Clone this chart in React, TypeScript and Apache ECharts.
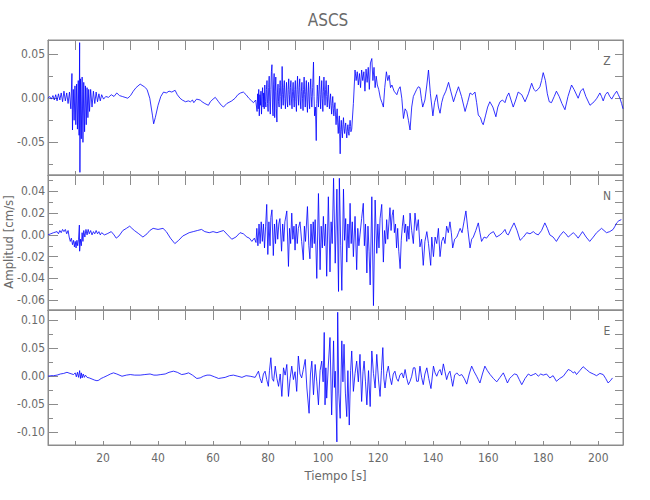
import React, { useEffect, useRef } from "react";
import * as echarts from "echarts";

// ---- data (time [s], velocity [cm/s]) ----
const X_MIN = 0;
const X_MAX = 209;

const Z_TRACE: number[][] = [
  [0,0],[0.6,0.002],[1.2,-0.001],[1.8,0.003],[2.3,-0.002],[2.8,0.004],[3.3,-0.003],[3.8,0.005],[4.3,-0.002],[4.8,0.006],
  [5.3,-0.004],[5.8,0.008],[6.3,-0.003],[6.8,0.006],[7.3,-0.006],[7.8,0.007],[8.3,-0.012],[8.7,0.028],[8.9,-0.036],[9.2,0.010],
  [9.5,-0.025],[9.8,0.014],[10.1,-0.030],[10.4,0.016],[10.7,-0.035],[11.0,0.020],[11.3,-0.042],[11.5,0.063],[11.6,-0.084],[11.8,0.022],
  [12.1,-0.046],[12.4,0.024],[12.7,-0.050],[13.0,0.018],[13.3,-0.038],[13.6,0.014],[13.9,-0.030],[14.2,0.012],[14.5,-0.022],[14.8,0.010],
  [15.1,-0.015],[15.5,0.010],[16.0,-0.010],[16.5,0.008],[17.0,-0.006],[17.5,0.007],[18.0,-0.004],[18.5,0.005],[19.0,-0.003],[19.5,0.004],
  [20.2,-0.001],[21,0.002],[22,0.001],[23,0.004],[24,0.002],[25,0.006],[26,0.003],[27,0.002],[28,0.001],[29,0],
  [30,0.003],[31,0.008],[32,0.012],[33.5,0.016],[35,0.013],[36,0.010],[37,0],[38,-0.020],[38.4,-0.029],[39,-0.022],
  [40,-0.008],[41,0.002],[42,0.007],[43,0.006],[44,0.008],[45,0.007],[46.2,0.009],[47,0.004],[48,0],[48.8,-0.002],
  [50,-0.004],[51,-0.003],[51.8,-0.004],[52.5,-0.002],[53,-0.005],[54,-0.001],[55.3,-0.002],[56,-0.004],[57,-0.006],[58.3,-0.008],
  [59,-0.004],[60,-0.001],[60.8,0.001],[62,-0.004],[63,-0.008],[63.8,-0.010],[65,-0.006],[66.8,-0.003],[68,0],[69,0.004],
  [70,0.006],[71,0.007],[72,0.004],[73,0],[74,-0.003],[74.7,-0.005],[75.5,-0.002],
  [76.0,-0.015],[76.2,0.005],[76.4,-0.012],[76.6,0.010],[76.8,-0.020],[77.0,0.004],[77.2,-0.008],[77.4,0.008],[77.6,-0.018],[77.8,0.002],
  [78.0,0.012],[78.2,-0.010],[78.4,0.006],[78.6,-0.012],[78.8,0.015],[79.0,-0.004],[79.2,-0.010],[79.4,0.010],[79.6,0.020],[79.8,-0.006],
  [80.0,-0.015],[80.2,0.012],[80.4,0.025],[80.6,-0.004],[80.8,-0.018],[81.0,0.010],[81.2,0.030],[81.4,0.038],[81.6,-0.010],[81.8,-0.020],
  [82.0,0.016],[82.2,0.028],[82.4,-0.022],[82.6,0.008],[82.8,0.024],[83.0,-0.012],[83.2,-0.027],[83.4,0.006],[83.6,0.016],[83.8,-0.004],
  [84.0,-0.010],[84.2,0.012],[84.4,0.020],[84.6,0.002],[84.8,-0.012],[85.0,0.014],[85.1,0.036],[85.3,0.004],[85.5,-0.008],[85.7,0.012],
  [85.9,0.020],[86.1,0],[86.3,-0.012],[86.5,0.006],[86.7,0.018],[86.9,-0.002],[87.1,-0.010],[87.3,0.010],[87.5,0.022],[87.7,0.004],
  [87.9,-0.008],[88.1,0.012],[88.3,0.020],[88.5,-0.002],[88.7,-0.012],[88.9,0.008],[89.1,0.018],[89.3,0],[89.5,-0.010],[89.7,0.010],
  [89.9,0.020],[90.1,-0.004],[90.3,-0.015],[90.5,0.010],[90.7,0.025],[90.9,0.004],[91.1,-0.008],[91.3,0.012],[91.5,0.022],[91.7,-0.002],
  [91.9,-0.012],[92.1,0.008],[92.3,0.018],[92.5,0],[92.7,-0.014],[92.9,0.010],[93.1,0.024],[93.3,0.004],[93.5,-0.010],[93.7,0.008],
  [93.9,0.020],[94.1,-0.002],[94.3,-0.016],[94.5,0.006],[94.7,0.018],[94.9,-0.002],[95.1,-0.012],[95.3,0.010],[95.5,0.022],[95.7,0.002],
  [95.9,-0.010],[96.2,0.012],[96.5,0.041],[96.7,0.002],[96.9,-0.020],[97.2,-0.010],[97.5,-0.048],[97.7,-0.006],[97.9,0.015],[98.1,0.002],
  [98.3,-0.010],[98.5,0.010],[98.7,0.025],[98.9,0.004],[99.1,-0.012],[99.3,0.006],[99.5,0.020],[99.7,0],[99.9,-0.015],[100.1,0.008],
  [100.3,0.024],[100.5,0.006],[100.7,-0.008],[100.9,0.010],[101.1,0.020],[101.3,0.002],[101.5,-0.010],[101.7,0.004],[101.9,0.015],[102.1,-0.002],
  [102.3,-0.012],[102.5,-0.002],[102.7,0.005],[102.9,-0.008],[103.1,-0.018],[103.3,-0.006],[103.5,0.002],[103.7,-0.012],[103.9,-0.020],[104.1,-0.010],
  [104.3,-0.005],[104.5,-0.018],[104.7,-0.030],[104.9,-0.020],[105.1,-0.012],[105.3,-0.028],[105.5,-0.040],[105.7,-0.028],[105.9,-0.020],[106.0,-0.040],
  [106.2,-0.063],[106.4,-0.035],[106.6,-0.025],[106.8,-0.038],[107,-0.045],[107.2,-0.030],[107.4,-0.022],[107.6,-0.034],[107.8,-0.040],[108.0,-0.032],
  [108.2,-0.028],[108.4,-0.038],[108.6,-0.045],[108.8,-0.036],[109,-0.030],[109.2,-0.038],[109.4,-0.042],[109.6,-0.032],[109.8,-0.025],[110.0,-0.032],
  [110.1,-0.038],[110.4,-0.035],[111,-0.006],[111.6,0.032],
  [112,0.020],[112.4,0.030],[112.8,0.015],[113.2,0.028],[113.6,0.012],[114,0.032],[114.4,0.020],[114.8,0.030],[115.2,0.008],[115.6,0.033],
  [116,0.018],[116.4,0.035],[116.8,0.010],[117.2,0.040],[117.7,0.045],[118.1,0.020],[118.5,0.035],[118.9,0.012],[119.3,0.025],[119.7,0.015],
  [120.2,0.010],[120.8,0],[121.4,-0.005],[121.9,-0.010],[122.4,0.012],[123,0.030],[123.5,0.020],[124,0.026],[124.5,0.012],[125,0.015],
  [125.8,0.008],[126.8,0.004],[127.4,0.010],[128,0.013],[128.6,0],[129.2,-0.023],[129.8,-0.012],[130.4,-0.015],[131,-0.025],[131.6,-0.036],
  [132.2,-0.010],[132.8,0.002],[133.4,0.006],[134,0.010],[134.6,0.013],[135.2,0.012],[135.7,0],[136.2,-0.010],[137,-0.002],[137.7,0.015],
  [138.3,0.032],[139,0.005],[139.9,-0.020],[140.5,-0.005],[141.3,0.004],[141.9,-0.010],[142.5,-0.017],[143.1,-0.005],[143.7,0.002],[144.6,0.008],
  [145.6,0.018],[146.4,0.008],[147.4,-0.004],[148.3,0.005],[149.2,0.013],[150.3,0.002],[151.6,-0.015],[152.5,-0.005],[153.4,0.006],[154.3,0.004],
  [155.2,0.007],[155.8,-0.005],[156.4,-0.019],[157.2,-0.022],[157.8,-0.028],[158.2,-0.030],[159,-0.020],[159.8,-0.010],[160.6,-0.004],[161.7,-0.010],
  [162.8,-0.021],[163.5,-0.010],[164.3,-0.004],[165.2,-0.002],[166.1,-0.005],[166.8,0.002],[167.5,0.006],[168.3,-0.002],[169.1,-0.010],[170,-0.002],
  [170.9,0.007],[172.2,0.004],[173.4,-0.004],[174.6,0.005],[175.8,0.017],[176.6,0.010],[177.3,0.008],[178.1,0.010],[178.8,0.013],[179.4,0.020],
  [180,0.029],[180.8,0.020],[181.5,0.005],[182.2,-0.004],[183,-0.005],[184,0.002],[184.8,0.008],[185.8,0.002],[186.8,-0.006],[187.9,-0.013],
  [189,0.002],[190.3,0.015],[191.2,0.010],[192.7,0],[193.6,0.008],[194.5,0.011],[195.5,0.002],[197,-0.008],[198.5,-0.004],[199.5,0],
  [200.6,0.006],[201.2,0.002],[201.8,-0.003],[202.6,0.004],[203.4,0.007],[204.2,0.002],[204.9,-0.001],[205.8,0.004],[206.7,0.008],[207.3,0.004],
  [207.9,0],[208.5,-0.006],[209,-0.012],
];

const N_TRACE: number[][] = [
  [0,0],[1,0.001],[2,0.002],[3.3,0.003],[3.8,0.001],[4.3,0.004],[4.8,0.002],[5.3,0.005],[5.8,0.003],[6.3,0.005],
  [6.8,0.001],[7.3,0.004],[7.7,-0.002],[8.1,-0.006],[8.5,-0.003],[8.9,-0.009],[9.3,-0.005],[9.6,-0.011],[9.9,-0.006],[10.2,-0.012],
  [10.5,-0.005],[10.8,-0.010],[11.1,-0.004],[11.4,0.009],[11.5,-0.015],[11.8,-0.004],[12.1,-0.010],[12.4,0.002],[12.7,-0.006],[13,0.004],
  [13.4,-0.002],[13.8,0.005],[14.2,0],[14.6,0.005],[15,0.001],[15.5,0.004],[16,0],[16.5,0.003],[17,0.001],[17.5,0.004],
  [18,0.001],[18.5,0.003],[19,0],[19.5,0.002],[20.5,0],[21.5,0.001],[23,0.003],[24,0],[24.8,-0.003],[25.8,-0.001],
  [27.2,0.004],[28.5,0.006],[29.7,0.008],[30.5,0.006],[31.4,0.004],[33,0.001],[34.5,-0.002],[36,0.001],[37,0.004],[38.2,0.006],
  [40,0.005],[41.8,0.006],[43,0.003],[44.5,-0.003],[46.1,-0.008],[47.5,-0.005],[49,-0.001],[49.8,0],[51.3,0.002],[52.8,0.003],
  [54.3,0.004],[55.8,0.005],[57,0.003],[58.6,0.002],[60,0.003],[61.4,0.002],[62.5,0.003],[63.8,0.004],[65.3,0],[66.8,-0.004],
  [68.3,-0.002],[69.8,0.002],[71,0.001],[72.3,-0.002],[73.2,-0.003],[74.1,-0.006],[75,-0.003],[75.6,-0.007],
  [75.9,0.006],[76.3,-0.010],[76.7,0.010],[77.1,-0.008],[77.5,0.012],[77.9,-0.006],[78.3,0.010],[78.7,-0.012],[79.1,0.008],[79.5,0.028],
  [79.9,-0.018],[80.3,0.012],[80.7,-0.010],[81.0,0.016],[81.4,0.023],[81.9,-0.019],[82.3,0.010],[82.7,-0.008],[83.1,0.014],[83.5,-0.004],
  [83.9,0.010],[84.3,0.015],[84.9,-0.015],[85.3,0.010],[85.7,-0.006],[86.1,0.012],[86.8,0.022],[87.4,-0.029],[87.8,0.006],[88.2,-0.008],
  [88.6,0.020],[89.0,-0.004],[89.4,0.008],[89.8,-0.014],[90.2,0.010],[90.6,-0.008],[91.0,0.006],[91.6,0.012],[92.2,-0.006],[92.8,-0.023],
  [93.2,0.008],[93.6,-0.006],[94.3,0.026],[94.8,-0.010],[95.2,-0.022],[95.6,0.010],[96.0,-0.012],[96.4,0.012],[96.8,-0.008],[97.1,0.014],
  [97.7,-0.040],[98.3,0.038],[98.9,-0.032],[99.3,0.008],[99.7,-0.012],[100.1,0.017],[100.5,-0.010],[100.9,0.010],[101.3,-0.038],[101.9,0.035],
  [102.5,-0.034],[102.9,0.012],[103.3,-0.008],[103.8,0.052],[104.4,-0.026],[105.0,0.042],[105.6,-0.052],[105.9,0.052],[106.4,-0.010],[106.8,-0.051],
  [107.4,0.042],[107.8,-0.005],[108.2,0.015],[108.6,-0.025],[109.0,0.010],[109.4,-0.012],[109.8,0.029],[110.2,-0.008],[110.6,0.012],[111.0,-0.020],
  [111.6,0.017],[112.2,-0.032],[112.6,0.006],[113.0,-0.010],[113.4,0],[114.0,0.015],[114.6,0.029],[115.0,-0.010],[115.4,0.010],[115.9,-0.035],
  [116.3,0.008],[116.7,-0.015],[117.1,-0.046],[117.7,0.035],[118.3,-0.065],[118.9,0.032],[119.5,-0.017],[119.9,0.010],[120.3,-0.012],[120.7,0.015],
  [121.3,0.028],[121.9,-0.025],[122.3,0.004],[122.7,-0.008],[123.1,0.014],[123.5,-0.004],[123.9,0.010],[124.3,0.025],[124.7,0.004],[125.1,0.018],
  [125.5,0.023],[125.9,0.002],[126.3,0.010],[126.7,-0.012],[127.1,0.006],[127.5,-0.015],[128.0,-0.031],[128.4,-0.005],[128.8,0.008],[129.2,0.018],
  [129.6,0.002],[130.0,0.010],[130.4,-0.006],[130.8,0.008],[131.2,-0.004],[131.6,0.020],[132.2,0.004],[132.8,-0.008],[133.4,0.020],[134.0,0.004],
  [134.6,0.014],[135.2,-0.011],[135.8,-0.004],[136.4,-0.028],[137.0,-0.006],[137.7,0.003],[138.3,-0.008],[139.1,-0.028],[139.5,-0.002],[140.1,-0.020],
  [140.7,-0.002],[141.3,-0.008],[141.9,0.006],[142.5,-0.020],[143.1,-0.006],[143.7,-0.002],[144.3,-0.008],[144.9,0.008],[145.5,0.002],[146.1,0.012],
  [146.6,0.002],[147.1,-0.012],[147.8,-0.004],[148.6,-0.002],[149.2,0.002],[149.8,0.006],[150.5,0.002],[151.2,0.012],[151.9,0.022],[152.6,0.005],
  [153.4,-0.012],[154.0,-0.004],[154.6,-0.002],[155.5,0.004],[156.4,0.011],[157.0,0.002],[157.6,-0.006],[158.5,-0.002],[159.4,-0.003],[160.6,0.001],
  [161.9,0.003],[163,-0.002],[164.3,0],[165.2,0.002],[166.1,0.005],[166.7,0.001],[167.3,0],[168.4,0.006],[169.4,0.011],[170.5,0.004],
  [171.6,-0.005],[172.8,-0.002],[174,0.002],[175.2,0.001],[176.4,0.003],[177.3,0.001],[178.2,0],[179.4,0.004],[180.6,0.011],[181.5,0.006],
  [182.4,0],[183.6,-0.002],[184.8,-0.006],[186,-0.001],[187.3,0.003],[188.2,0.001],[189.1,-0.002],[190,0],[190.9,0.002],[191.8,0],
  [192.7,-0.003],[193.5,0],[194.3,0.003],[195.6,-0.002],[196.9,-0.006],[198.2,-0.002],[199.4,0.002],[200.3,0.004],[201.2,0.006],[202.1,0.004],
  [203,0.002],[204.2,0.003],[205.4,0.005],[206.1,0.008],[206.7,0.011],[207.5,0.013],[208.4,0.014],
];

const E_TRACE: number[][] = [
  [0,0],[1,0.001],[2,0.001],[3.3,0.002],[4.5,0.004],[5.7,0.005],[6.9,0.007],[8,0.005],[9.3,0.003],[9.9,0.006],
  [10.3,-0.001],[10.7,0.007],[11.1,-0.002],[11.5,0.010],[11.8,-0.004],[12.1,0.006],[12.4,-0.003],[12.8,0.004],[13.2,-0.002],[13.6,0.002],
  [14.2,-0.002],[15,-0.003],[16,-0.005],[17,-0.007],[17.8,-0.008],[18.5,-0.007],[19.3,-0.004],[20.2,-0.002],[21.5,0.001],[22.7,0.004],
  [23.8,0.006],[25,0.004],[26.9,0],[28.5,0.002],[29.9,0.003],[31.5,0.002],[33.5,0.002],[35.2,0.003],[37.1,0.004],[38.5,0.002],
  [39.6,0.002],[41,0.003],[42.6,0.004],[44,0.007],[45.6,0.009],[47,0.007],[48.6,0.003],[49.8,0.004],[51.1,0.006],[52.5,0.002],
  [54.1,-0.004],[55.3,-0.003],[56.5,0],[57.8,0.002],[58.9,0.002],[60.5,-0.001],[62,-0.004],[63.2,-0.003],[64.4,-0.002],[66,0.001],
  [67.4,0.002],[69,0],[70.5,-0.002],[72,0.001],[73.5,0],[75.3,-0.002],
  [76.5,0.009],[77.1,-0.004],[77.7,-0.012],[78.3,0.004],[78.9,0.009],[79.5,-0.006],[80.1,-0.018],[80.5,0.010],[81.0,0.033],[81.5,-0.004],
  [82.0,-0.009],[82.6,0.018],[83.2,-0.004],[83.8,-0.018],[84.4,0.004],[85.0,-0.036],[85.6,0.015],[86.2,0.002],[86.8,0.021],[87.4,-0.036],
  [88.0,-0.004],[88.6,0.018],[89.2,-0.006],[89.8,0.008],[90.4,-0.027],[91.0,0.036],[91.6,0.004],[92.2,-0.003],[92.8,0.012],[93.5,0.030],
  [94.1,-0.021],[94.9,-0.066],[95.4,0.004],[95.9,0.027],[96.5,-0.033],[97.1,0.021],[97.7,-0.010],[98.3,-0.051],[98.9,0.010],[99.5,0.027],
  [100.0,-0.010],[100.4,0.078],[100.7,-0.051],[101.0,0.015],[101.3,-0.039],[101.9,0.020],[102.5,0.069],[103.1,-0.069],[103.8,0.063],[104.1,-0.020],
  [104.4,0.009],[105.0,-0.117],[105.3,0.114],[105.7,-0.030],[106.2,-0.075],[106.8,0.063],[107.2,-0.010],[107.6,0.057],[108.1,-0.030],[108.6,-0.072],
  [109.0,0.010],[109.5,-0.087],[110.0,0.010],[110.4,0.045],[111.0,-0.027],[111.6,0.005],[112.2,0.027],[112.8,-0.010],[113.4,0.039],[114.0,-0.045],
  [114.5,0.008],[114.9,0.027],[115.4,-0.010],[115.9,-0.051],[116.5,0.010],[117.1,-0.054],[117.7,0.045],[118.3,0.005],[118.9,-0.021],[119.5,0.039],
  [120.1,-0.005],[120.7,-0.036],[121.2,0.010],[121.7,0.051],[122.1,-0.005],[122.5,-0.021],[123.1,0.005],[123.7,0.018],[124.3,-0.002],[124.9,-0.015],
  [125.5,0.004],[126.1,0.009],[126.7,-0.004],[127.3,-0.009],[127.9,0.002],[128.6,0.006],[129.2,-0.003],[129.8,0.012],[130.4,-0.004],[131.0,-0.015],
  [131.6,-0.009],[132.2,0],[132.8,0.015],[133.4,0.015],[134.0,-0.009],[134.6,-0.009],[135.2,0.018],[135.8,-0.002],[136.4,-0.015],[137.0,0.004],
  [137.7,0.015],[138.4,-0.004],[139.2,-0.022],[140.1,0.018],[140.7,0.006],[141.3,0],[141.9,0.008],[142.5,0.012],[143.1,0.002],[143.7,0.022],
  [144.3,0.008],[144.9,-0.006],[145.5,0.004],[146.1,0.009],[146.6,-0.004],[147.1,-0.018],[147.8,0.002],[148.6,0.006],[149.5,0.001],[150.4,0.003],
  [151.3,-0.004],[152.2,-0.014],[153.1,0.004],[154,0.018],[154.9,0.008],[155.8,0],[156.4,-0.006],[157,-0.012],[157.9,0.004],[158.8,0.018],
  [159.7,0.010],[160.7,0.003],[161.9,-0.004],[163.1,-0.010],[164.3,-0.002],[165.5,0.006],[166.2,-0.002],[167,-0.012],[167.8,-0.004],[168.6,0],
  [169.5,0.004],[170.4,0.003],[171.3,-0.006],[172.2,-0.015],[173.4,-0.004],[174.6,0.004],[175.5,0.001],[176.4,0.003],[177.3,0.005],[178.2,0],
  [179.1,0.004],[180,0.002],[181.2,0.004],[182.4,-0.003],[183.6,0.001],[184.8,-0.009],[186,-0.004],[187.3,0],[188.2,0.006],[189.1,0.012],
  [190,0.010],[190.9,0.006],[191.5,0.008],[192.1,0.003],[193.3,0.010],[194.5,0.017],[195.7,0.012],[196.9,0.007],[198.2,0.004],[199.4,0.001],
  [200.6,0.005],[201.8,0.003],[202.7,-0.004],[203.6,-0.012],[204.4,-0.008],[205.2,-0.003],
];

const COMPONENTS = ["Z", "N", "E"];
const Y_RANGES = [[-0.087, 0.066], [-0.069, 0.055], [-0.1225, 0.118]];
const Y_LABEL_TICKS = [
  [-0.05, 0, 0.05],
  [-0.06, -0.04, -0.02, 0, 0.02, 0.04],
  [-0.1, -0.05, 0, 0.05, 0.1],
];
const Y_MINOR_TICKS = [
  [-0.075, -0.05, -0.025, 0, 0.025, 0.05],
  [-0.06, -0.05, -0.04, -0.03, -0.02, -0.01, 0, 0.01, 0.02, 0.03, 0.04, 0.05],
  [-0.1, -0.075, -0.05, -0.025, 0, 0.025, 0.05, 0.075, 0.1],
];
const TRACES = [Z_TRACE, N_TRACE, E_TRACE];
const TITLE = "ASCS";
const X_NAME = "Tiempo [s]";
const Y_NAME = "Amplitud [cm/s]";

const FONT = '"Liberation Sans Narrow", "DejaVu Sans Condensed", "Roboto Condensed", sans-serif';
const TEXT_COLOR = "#6a6a6a";
const FRAME = "#8c8c8c";

export default function App() {
  const ref = useRef<HTMLDivElement>(null);
  useEffect(() => {
    document.body.style.margin = "0";
    const chart = echarts.init(ref.current!, null, { renderer: "svg" });
    const GRID_LEFT = 48;
    const GRID_RIGHT = 27;
    const GRID_TOP = 40;
    const PANEL_H = 135;

    const grid: any[] = [];
    const xAxis: any[] = [];
    const yAxis: any[] = [];
    const series: any[] = [];
    const graphic: any[] = [];

    for (let i = 0; i < 3; i++) {
      grid.push({
        left: GRID_LEFT,
        right: GRID_RIGHT,
        top: GRID_TOP + i * PANEL_H,
        height: PANEL_H,
        show: true,
        borderColor: FRAME,
        borderWidth: 1,
        backgroundColor: "transparent",
      });
      const baseX = {
        type: "value",
        gridIndex: i,
        min: X_MIN,
        max: X_MAX,
        interval: 10,
        splitLine: { show: false },
        axisLine: { show: true, onZero: false, lineStyle: { color: FRAME, width: 1 } },
      };
      xAxis.push({
        ...baseX,
        position: "bottom",
        axisTick: { show: true, inside: true, length: 4, lineStyle: { color: FRAME } },
        axisLabel: {
          show: i === 2,
          margin: 7,
          color: TEXT_COLOR,
          fontFamily: FONT,
          fontSize: 12,
          formatter: (v: number) => (v > 0 && v % 20 === 0 ? String(v) : ""),
        },
        name: i === 2 ? X_NAME : "",
        nameLocation: "middle",
        nameGap: 24,
        nameTextStyle: { color: TEXT_COLOR, fontFamily: FONT, fontSize: 13 },
      });
      xAxis.push({
        ...baseX,
        position: "top",
        axisTick: { show: true, inside: true, length: 10, lineStyle: { color: FRAME } },
        axisLabel: { show: false },
      });
      const [ymin, ymax] = Y_RANGES[i];
      const baseY = {
        type: "value",
        gridIndex: i,
        min: ymin,
        max: ymax,
        splitLine: { show: false },
      };
      yAxis.push({
        ...baseY,
        position: "left",
        axisLine: { show: true, onZero: false, lineStyle: { color: FRAME } },
        axisTick: { show: true, inside: true, length: 10, customValues: Y_LABEL_TICKS[i], lineStyle: { color: FRAME } },
        axisLabel: {
          show: true,
          customValues: Y_LABEL_TICKS[i],
          margin: 3,
          color: TEXT_COLOR,
          fontFamily: FONT,
          fontSize: 12,
          formatter: (v: number) => v.toFixed(2),
        },
      });
      yAxis.push({
        ...baseY,
        position: "left",
        axisLine: { show: false, onZero: false },
        axisTick: { show: true, inside: true, length: 5, customValues: Y_MINOR_TICKS[i], lineStyle: { color: FRAME } },
        axisLabel: { show: false },
      });
      yAxis.push({
        ...baseY,
        position: "right",
        axisLine: { show: true, onZero: false, lineStyle: { color: FRAME } },
        axisTick: { show: true, inside: true, length: 8, customValues: Y_MINOR_TICKS[i], lineStyle: { color: FRAME } },
        axisLabel: { show: false },
      });
      series.push({
        type: "line",
        name: COMPONENTS[i],
        xAxisIndex: 2 * i,
        yAxisIndex: 3 * i,
        data: TRACES[i],
        showSymbol: false,
        symbol: "none",
        lineStyle: { color: "#0000ff", width: 0.8 },
        silent: true,
      });
      graphic.push({
        type: "text",
        x: 607,
        y: GRID_TOP + i * PANEL_H + 21,
        style: {
          text: COMPONENTS[i],
          fill: TEXT_COLOR,
          font: `12px ${FONT}`,
          align: "center",
          verticalAlign: "middle",
        },
      });
    }

    graphic.push({
      type: "text",
      x: 328,
      y: 20,
      style: { text: TITLE, fill: TEXT_COLOR, font: `17px ${FONT}`, align: "center", verticalAlign: "middle" },
    });
    graphic.push({
      type: "text",
      x: 8,
      y: 242,
      rotation: Math.PI / 2,
      style: { text: Y_NAME, fill: TEXT_COLOR, font: `13px ${FONT}`, align: "center", verticalAlign: "middle" },
    });

    chart.setOption({
      animation: false,
      backgroundColor: "#ffffff",
      grid,
      xAxis,
      yAxis,
      series,
      graphic,
    });
    return () => chart.dispose();
  }, []);
  return (
    <div
      ref={ref}
      style={{ position: "fixed", left: 0, top: 0, width: 650, height: 500 }}
    />
  );
}
